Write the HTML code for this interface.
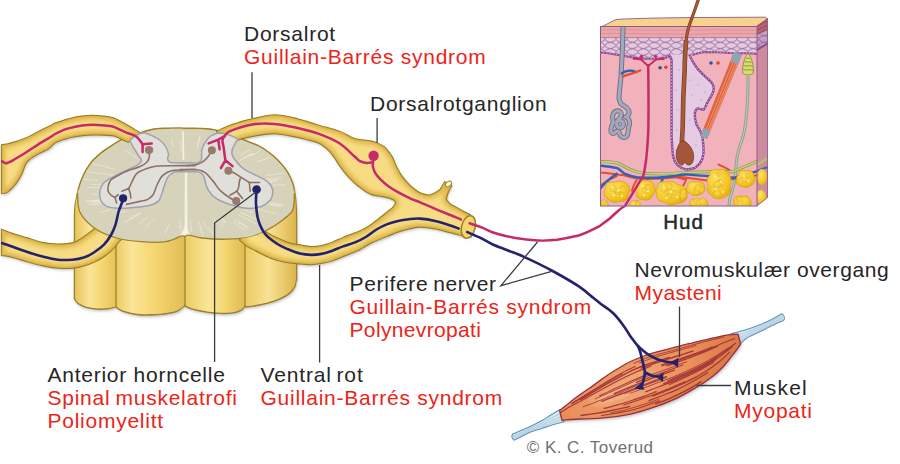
<!DOCTYPE html>
<html><head><meta charset="utf-8">
<style>
html,body{margin:0;padding:0;background:#fff;width:900px;height:464px;overflow:hidden}
svg{display:block}
.t{font-family:"Liberation Sans",sans-serif;font-size:21px;letter-spacing:0.75px}
.k{fill:#262626;stroke:#262626;stroke-width:0px}
.r{fill:#ec2418;stroke:#ec2418;stroke-width:0px}
</style></head><body>
<svg width="900" height="464" viewBox="0 0 900 464">
<defs>
<linearGradient id="lobe1" x1="0" x2="1" y1="0" y2="0"><stop offset="0" stop-color="#e8c55c"/><stop offset="0.35" stop-color="#fbe497"/><stop offset="0.7" stop-color="#f3d46e"/><stop offset="1" stop-color="#e6c25a"/></linearGradient>
<linearGradient id="lobe2" x1="0" x2="1" y1="0" y2="0"><stop offset="0" stop-color="#eccb64"/><stop offset="0.22" stop-color="#fbe598"/><stop offset="0.55" stop-color="#f5d672"/><stop offset="1" stop-color="#e2bd55"/></linearGradient>
<linearGradient id="lobe3" x1="0" x2="1" y1="0" y2="0"><stop offset="0" stop-color="#eecd66"/><stop offset="0.4" stop-color="#fbe598"/><stop offset="0.7" stop-color="#f3d46e"/><stop offset="1" stop-color="#dfba52"/></linearGradient>
<linearGradient id="lobe4" x1="0" x2="1" y1="0" y2="0"><stop offset="0" stop-color="#eccb64"/><stop offset="0.45" stop-color="#fae295"/><stop offset="1" stop-color="#dcb64e"/></linearGradient>
<linearGradient id="rootg" x1="0" x2="0" y1="0" y2="1"><stop offset="0" stop-color="#f7e196"/><stop offset="1" stop-color="#ecce72"/></linearGradient>
<radialGradient id="muscg" cx="0.5" cy="0.45" r="0.6"><stop offset="0" stop-color="#f0a774"/><stop offset="0.6" stop-color="#df8550"/><stop offset="1" stop-color="#c86838"/></radialGradient>
<filter id="shd" x="-5%" y="-5%" width="110%" height="115%"><feGaussianBlur in="SourceAlpha" stdDeviation="1.5" result="b"/><feOffset in="b" dx="0.6" dy="2" result="o"/><feFlood flood-color="#50506a" flood-opacity="0.38" result="f"/><feComposite in="f" in2="o" operator="in"/></filter>
</defs>

<!-- shadows -->
<g filter="url(#shd)">
<use href="#lD"/><use href="#lV"/><use href="#bodyP"/><use href="#rU"/>
</g>
<!-- ===== SPINAL CORD BODY ===== -->
<defs><path id="bodyP" d="M74.6,215.0 C74.7,213.3 74.8,208.3 75.2,205.0 C75.6,201.7 76.6,198.1 77.2,195.0 C77.8,191.9 78.2,189.6 79.1,186.7 C79.9,183.8 81.1,180.5 82.3,177.7 C83.5,174.9 84.7,172.5 86.2,169.9 C87.7,167.3 89.5,164.6 91.4,162.2 C93.4,159.8 95.8,157.6 97.9,155.7 C100.1,153.8 102.0,152.2 104.3,150.5 C106.6,148.8 109.0,147.3 112.0,145.5 C115.0,143.7 117.3,141.6 122.0,139.5 C126.7,137.4 135.1,134.7 140.0,133.0 C144.9,131.3 147.5,130.4 151.7,129.6 C155.9,128.8 160.3,128.6 165.0,128.3 C169.7,128.0 176.5,128.0 180.0,128.0 C183.5,128.0 182.7,128.3 186.0,128.4 C189.3,128.5 195.2,128.2 200.0,128.5 C204.8,128.8 210.0,129.0 215.0,130.0 C220.0,131.0 225.0,132.8 230.0,134.5 C235.0,136.2 240.2,138.5 245.2,140.5 C250.2,142.5 255.4,144.1 260.0,146.6 C264.6,149.1 269.2,152.7 272.9,155.7 C276.6,158.7 279.4,161.8 282.0,164.8 C284.6,167.8 286.7,170.6 288.5,173.8 C290.3,177.0 291.9,180.7 293.0,184.2 C294.1,187.7 294.5,191.5 295.0,195.0 C295.5,198.5 295.8,201.7 296.0,205.0 C296.2,208.3 296.3,213.3 296.4,215.0 L296.5,280 L296,280 C295.8,281.1 295.8,284.5 294.7,286.7 C293.6,288.9 291.8,291.3 289.3,293.3 C286.9,295.3 283.8,297.0 280.0,298.7 C276.2,300.4 271.1,302.1 266.7,303.3 C262.2,304.5 256.9,305.4 253.3,306.0 C249.7,306.6 246.6,306.6 245.3,306.7 L244.7,306 C244.1,306.7 243.2,308.9 241.3,310.0 C239.4,311.1 236.9,312.1 233.3,312.7 C229.8,313.2 224.4,313.4 220.0,313.3 C215.6,313.2 211.1,312.7 206.7,312.0 C202.2,311.3 196.9,310.3 193.3,309.3 C189.7,308.3 186.6,306.6 185.3,306.0 L184.7,305.3 C183.4,306.3 180.3,309.9 176.7,311.3 C173.1,312.8 167.8,313.4 163.3,314.0 C158.9,314.6 154.4,314.8 150.0,314.9 C145.6,315.0 141.1,315.0 136.7,314.4 C132.2,313.8 126.6,312.5 123.3,311.3 C120.0,310.1 117.8,308.0 116.7,307.3 L115.3,306.7 C114.0,307.0 110.4,308.3 107.3,308.7 C104.2,309.1 100.2,309.2 96.7,309.0 C93.2,308.8 89.1,308.2 86.0,307.3 C82.9,306.4 79.9,304.7 78.0,303.3 C76.1,301.9 75.1,299.5 74.5,298.7 Z"/></defs>
<use href="#bodyP" fill="#eccf72" stroke="#9c8228" stroke-width="1.6"/>
<clipPath id="cpBody"><use href="#bodyP"/></clipPath>
<g stroke="none" clip-path="url(#cpBody)">
<path fill="url(#lobe1)" d="M75.3,190 L116.2,190 L116.2,306.4 C114.7,306.6 110.5,307.6 107.3,307.9 C104.0,308.2 100.2,308.4 96.7,308.2 C93.2,308.0 89.1,307.4 86.0,306.5 C82.9,305.6 79.8,303.9 78.0,302.6 C76.2,301.3 75.8,299.2 75.3,298.5 Z"/>
<path fill="url(#lobe2)" d="M116.8,190 L184.4,190 L184.4,305.6 C183.1,306.4 180.2,309.2 176.7,310.5 C173.2,311.8 167.8,312.6 163.3,313.2 C158.9,313.8 154.4,314.0 150.0,314.1 C145.6,314.2 141.1,314.2 136.7,313.6 C132.2,313.0 126.6,311.6 123.3,310.5 C120.0,309.4 117.9,307.4 116.8,306.8 Z"/>
<path fill="url(#lobe3)" d="M185.6,190 L244.4,190 L244.4,306.2 C243.9,306.7 243.2,308.2 241.3,309.2 C239.5,310.1 236.9,311.3 233.3,311.9 C229.8,312.4 224.4,312.6 220.0,312.5 C215.6,312.4 211.1,311.9 206.7,311.2 C202.2,310.5 196.8,309.4 193.3,308.5 C189.8,307.6 186.9,306.0 185.6,305.5 Z"/>
<path fill="url(#lobe4)" d="M245.6,190 L295.7,190 L295.7,282 C295.4,282.8 295.1,284.9 294.0,286.7 C292.9,288.5 291.1,290.7 288.8,292.6 C286.5,294.5 283.7,296.2 280.0,297.9 C276.3,299.5 271.1,301.3 266.7,302.5 C262.2,303.7 256.8,304.6 253.3,305.2 C249.8,305.8 246.9,305.8 245.6,305.9 Z"/>
</g>
<g fill="none" stroke="#9c8228" stroke-width="1.3">
<path d="M116,236 L116,306.8 M185,234 L185,305.8 M245,236 L245,306.3"/>
</g>
<!-- ===== VENTRAL ROOTS (under face) ===== -->
<defs><path id="lV" d="M1.8,229.8 C2.5,230.1 3.9,230.7 6.0,231.5 C8.1,232.3 10.7,233.3 14.5,234.5 C18.3,235.7 24.1,237.4 28.9,238.8 C33.7,240.2 38.6,242.1 43.4,243.1 C48.2,244.1 53.5,244.5 57.8,244.6 C62.1,244.7 66.3,244.3 69.4,243.8 C72.5,243.3 74.2,242.8 76.6,241.7 C79.0,240.6 81.1,239.1 83.8,237.3 C86.5,235.5 90.1,232.7 92.5,230.8 C94.9,228.9 95.8,228.5 98.0,226.0 C100.2,223.5 104.7,217.7 106.0,216.0 L127,228 C126.3,229.6 124.2,235.0 122.8,237.3 C121.4,239.6 120.2,239.8 118.5,241.7 C116.8,243.6 115.1,246.5 112.7,248.9 C110.3,251.3 107.1,253.9 104.0,256.1 C100.9,258.3 97.3,260.3 93.9,261.9 C90.5,263.5 87.4,264.5 83.8,265.5 C80.2,266.5 76.6,267.3 72.3,267.7 C68.0,268.1 62.6,268.1 57.8,267.7 C53.0,267.3 48.2,266.5 43.4,265.5 C38.6,264.5 33.7,263.2 28.9,261.9 C24.1,260.6 18.3,258.7 14.5,257.6 C10.7,256.6 8.1,256.0 6.0,255.6 C3.9,255.2 2.5,255.4 1.8,255.3 Z"/>
<clipPath id="cplV"><use href="#lV"/></clipPath>
<filter id="bl2" x="-10%" y="-10%" width="120%" height="120%"><feGaussianBlur stdDeviation="2"/></filter>
</defs>
<use href="#lV" fill="#f7dc84" stroke="#947a22" stroke-width="2"/>
<g clip-path="url(#cplV)"><use href="#lV" fill="none" stroke="#dfb84a" stroke-width="7" filter="url(#bl2)"/></g>
<!-- face (white matter) -->
<defs><path id="faceP" d="M77.9,195.0 C78.2,193.7 79.0,189.7 79.8,186.9 C80.6,184.1 81.8,180.8 83.0,178.0 C84.2,175.2 85.4,172.8 86.9,170.3 C88.4,167.8 90.1,165.1 92.0,162.8 C93.9,160.5 96.3,158.3 98.4,156.4 C100.5,154.5 102.5,152.9 104.8,151.2 C107.1,149.5 109.5,148.1 112.4,146.3 C115.3,144.5 117.7,142.4 122.3,140.3 C126.9,138.2 135.3,135.5 140.2,133.8 C145.1,132.2 147.8,131.2 151.9,130.4 C156.0,129.6 160.3,129.4 165.0,129.1 C169.7,128.8 176.5,128.8 180.0,128.8 C183.5,128.8 182.7,129.1 186.0,129.2 C189.3,129.3 195.2,129.0 200.0,129.3 C204.8,129.6 210.0,129.8 215.0,130.8 C220.0,131.8 224.8,133.6 229.8,135.3 C234.8,137.0 239.9,139.2 244.9,141.2 C249.9,143.2 255.0,144.8 259.6,147.3 C264.2,149.8 268.8,153.3 272.4,156.3 C276.0,159.3 278.8,162.3 281.4,165.3 C284.0,168.3 286.0,171.0 287.8,174.2 C289.6,177.4 291.2,181.0 292.3,184.5 C293.4,188.0 294.0,193.2 294.3,195.0 C294.2,195.8 294.6,205.5 292.7,209.9 C290.8,214.3 287.1,216.4 283.0,219.7 C278.9,222.9 273.6,226.6 268.3,229.4 C263.0,232.2 258.0,235.2 251.1,236.8 C244.2,238.4 234.8,239.0 226.7,239.2 C218.5,239.4 208.5,238.7 202.2,238.0 C195.9,237.3 191.9,235.4 189.0,235.2 C186.1,234.9 185.7,236.3 185.0,236.5 C184.3,236.4 184.2,235.3 181.0,236.2 C177.8,237.1 172.2,240.8 165.6,241.7 C158.9,242.6 149.2,242.3 141.1,241.7 C132.9,241.1 124.4,240.2 116.7,238.0 C109.0,235.8 100.8,232.5 94.7,228.2 C88.6,223.9 82.9,218.2 80.0,212.3 C77.1,206.4 77.9,196.2 77.5,193.0 Z"/><clipPath id="cpFace"><use href="#faceP"/></clipPath></defs>
<use href="#faceP" fill="#d7d3bb"/>
<g fill="none" stroke="#eeebdc" stroke-width="0.9" opacity="0.75" clip-path="url(#cpFace)">
<path d="M154.7,218.4 Q148.6,223.1 145.2,227.6 M141.0,212.6 Q133.3,215.8 128.4,219.5 M248.1,202.2 Q257.0,202.8 263.9,205.8 M199.7,227.2 Q201.8,232.1 203.4,237.7 M252.7,182.8 Q264.2,180.8 276.9,181.0 M240.6,212.2 Q248.4,216.4 258.2,220.0 M137.5,158.3 Q129.9,153.1 124.9,150.6 M208.7,226.8 Q210.5,231.2 213.5,235.1 M115.4,198.4 Q104.8,199.3 93.0,201.7 M115.2,169.6 Q105.0,166.2 93.4,164.0 M254.7,183.6 Q264.1,182.0 272.0,182.5 M118.9,190.3 Q109.0,190.8 97.5,191.0 M238.5,161.2 Q246.6,157.4 254.0,153.2 M102.3,199.5 Q94.1,201.1 86.1,201.7 M263.6,203.1 Q274.5,205.9 282.3,206.8 M169.6,224.0 Q165.9,229.0 165.0,234.2 M220.1,217.3 Q223.8,218.6 225.8,222.2 M187.1,224.9 Q186.1,230.8 187.5,236.9 M102.1,174.2 Q95.7,172.3 87.2,171.7 M121.2,206.5 Q111.9,208.6 99.8,212.7 M218.2,219.3 Q221.4,222.7 224.7,225.6 M180.7,220.2 Q179.6,224.6 179.3,228.6 M265.7,175.6 Q275.2,174.7 283.9,172.7 M269.4,202.3 Q277.8,204.4 283.9,204.8 M126.6,211.2 Q122.2,211.7 117.0,214.9 M251.2,202.3 Q256.8,202.2 263.3,204.9 M256.1,188.0 Q261.8,186.6 268.4,188.1 M243.4,158.3 Q247.2,155.4 252.6,153.5 M140.4,213.4 Q133.9,217.8 124.4,222.3 M117.9,191.4 Q111.3,191.0 105.6,192.0 M219.4,156.2 Q223.4,153.8 224.7,151.2 M234.2,218.8 Q237.7,222.4 241.0,223.2 M240.5,155.5 Q245.0,151.6 250.3,149.7 M196.9,147.6 Q198.0,140.8 200.1,135.7 M220.1,144.9 Q223.6,142.7 225.1,138.6 M181.4,151.1 Q180.4,144.8 180.2,141.4 M258.1,194.2 Q266.0,196.2 272.7,195.5 M101.5,202.1 Q96.0,202.9 87.9,204.4 M199.3,222.4 Q199.7,226.0 201.8,229.0 M256.5,161.8 Q263.8,160.2 270.1,156.7 M257.2,208.4 Q267.1,211.8 275.4,213.6 M115.9,192.7 Q103.9,194.4 92.8,194.3 M260.9,181.1 Q270.7,181.0 277.7,179.5 M219.5,217.6 Q223.8,221.3 225.8,223.2 M238.6,221.5 Q244.3,224.3 249.0,228.1 M119.7,177.2 Q115.9,176.8 109.2,175.5 M97.9,180.4 Q91.9,180.7 83.7,179.1 M203.6,222.2 Q204.7,226.1 207.3,229.5 M181.5,225.2 Q182.3,227.9 180.7,231.4 M108.1,198.2 Q96.7,200.9 85.8,201.1 M106.6,187.6 Q95.6,187.3 87.5,187.5 M213.1,217.5 Q216.9,222.6 222.7,227.9 M173.6,147.4 Q172.4,143.5 171.1,139.3 M200.7,153.4 Q202.1,147.8 204.9,143.5 M197.0,147.9 Q199.1,144.1 199.7,137.8 M109.7,201.8 Q100.9,204.0 92.1,205.0 M110.1,199.4 Q102.6,201.3 92.5,202.0 M249.9,155.8 Q255.2,154.5 260.1,150.6 M223.4,157.7 Q226.6,153.7 230.1,152.3 M190.0,221.1 Q191.5,227.5 191.3,231.5 M233.4,221.7 Q238.0,226.8 244.6,229.6 M256.3,180.5 Q268.7,179.1 281.7,177.8 M272.7,185.2 Q279.1,185.0 285.9,184.7 M148.2,217.3 Q144.7,219.1 139.8,223.8 M113.2,174.8 Q107.5,174.2 102.9,172.9 M118.3,185.3 Q105.9,186.2 91.8,184.3 M243.6,209.7 Q249.0,210.7 252.6,213.0 M238.7,215.1 Q248.3,218.9 256.1,224.1 M238.6,222.9 Q243.6,224.6 247.3,228.7 M263.9,202.3 Q270.8,205.1 280.3,205.3"/>
</g>
<path fill="#f3f1e2" d="M184.8,172 L187.2,172 L187.4,226 C188,231 189.5,234 191,236 L179,236 C181.5,234 183.5,230 184.6,226 Z"/>
<path fill="none" stroke="#f3f1e2" stroke-width="1.6" d="M183,131 L183.5,160"/>
<path fill="none" stroke="#9c8228" stroke-width="1.3" d="M294.5,193.0 C294.2,195.8 294.6,205.5 292.7,209.9 C290.8,214.3 287.1,216.4 283.0,219.7 C278.9,222.9 273.6,226.6 268.3,229.4 C263.0,232.2 258.0,235.2 251.1,236.8 C244.2,238.4 234.8,239.0 226.7,239.2 C218.5,239.4 208.5,238.7 202.2,238.0 C195.9,237.3 191.9,235.4 189.0,235.2 C186.1,234.9 185.7,236.3 185.0,236.5 C184.3,236.4 184.2,235.3 181.0,236.2 C177.8,237.1 172.2,240.8 165.6,241.7 C158.9,242.6 149.2,242.3 141.1,241.7 C132.9,241.1 124.4,240.2 116.7,238.0 C109.0,235.8 100.8,232.5 94.7,228.2 C88.6,223.9 82.9,218.2 80.0,212.3 C77.1,206.4 77.9,196.2 77.5,193.0"/>
<!-- ===== DORSAL ROOTS (over face) ===== -->
<defs><path id="lD" d="M1.8,145.2 C2.5,145.1 4.2,145.0 6.0,144.6 C7.8,144.2 9.6,143.9 12.9,142.8 C16.2,141.8 21.6,140.1 25.9,138.3 C30.2,136.5 34.5,134.0 38.8,131.8 C43.1,129.6 49.0,126.7 51.7,125.3 C54.4,123.9 52.6,124.4 55.0,123.5 C57.4,122.6 62.2,121.0 65.8,119.9 C69.4,118.9 72.9,117.9 76.5,117.2 C80.1,116.5 83.7,116.1 87.3,115.9 C90.9,115.7 94.5,115.7 98.1,115.9 C101.7,116.1 106.1,116.7 108.9,117.2 C111.7,117.7 112.2,117.6 115.0,118.8 C117.8,120.0 122.8,122.9 125.8,124.6 C128.8,126.3 130.5,127.3 133.0,128.8 C135.5,130.3 139.7,133.0 141.0,133.8 L128,141.8 C126.7,141.2 122.2,139.0 120.0,138.0 C117.8,137.0 116.8,136.3 115.0,135.8 C113.2,135.3 111.7,135.2 108.9,135.0 C106.1,134.8 101.7,134.6 98.1,134.5 C94.5,134.4 90.9,134.4 87.3,134.7 C83.7,135.0 80.1,135.5 76.5,136.1 C72.9,136.7 69.4,137.4 65.8,138.5 C62.2,139.6 57.9,140.8 55.0,142.5 C52.1,144.2 51.1,146.7 48.4,148.5 C45.7,150.3 42.0,151.4 38.8,153.2 C35.6,155.0 31.3,157.6 29.0,159.4 C26.7,161.2 26.5,161.9 25.2,164.3 C23.9,166.7 22.9,170.8 21.3,174.0 C19.7,177.2 17.8,180.7 15.5,183.6 C13.2,186.5 10.1,189.8 7.8,191.4 C5.5,193.0 2.8,193.0 1.8,193.3 Z"/><clipPath id="cplD"><use href="#lD"/></clipPath></defs>
<use href="#lD" fill="#f7dc84" stroke="#947a22" stroke-width="2" stroke-linejoin="round"/>
<g clip-path="url(#cplD)"><use href="#lD" fill="none" stroke="#dfb84a" stroke-width="7" filter="url(#bl2)"/></g>
<!-- ===== RIGHT ROOTS + GANGLION ===== -->
<defs>
<path id="rU" d="M217.0,131.5 C219.2,130.5 226.2,127.1 230.0,125.6 C233.8,124.1 236.3,123.5 240.0,122.4 C243.7,121.3 246.5,120.4 252.2,119.2 C257.9,118.0 267.0,115.3 274.4,115.3 C281.8,115.2 289.3,117.2 296.7,118.9 C304.1,120.6 311.8,123.5 318.9,125.6 C326.0,127.7 333.7,129.5 339.4,131.6 C345.1,133.7 349.1,136.9 353.0,138.4 C356.9,139.9 359.7,139.8 362.6,140.3 C365.5,140.8 368.0,140.8 370.4,141.3 C372.8,141.8 374.9,142.3 377.2,143.3 C379.5,144.3 382.2,145.7 384.0,147.1 C385.8,148.5 386.6,149.7 388.0,151.5 C389.4,153.3 390.9,155.2 392.3,157.8 C393.7,160.4 394.7,163.8 396.2,166.8 C397.7,169.8 399.2,172.9 401.4,175.9 C403.5,178.9 406.5,182.3 409.1,184.9 C411.7,187.5 414.8,189.9 416.9,191.4 C419.0,192.9 419.9,193.3 422.0,194.0 C424.1,194.7 427.0,195.6 429.2,195.4 C431.4,195.2 433.3,194.1 435.2,193.1 C437.1,192.1 439.6,190.1 440.5,189.5 C440.9,188.8 442.1,186.8 442.8,185.6 C443.6,184.3 444.6,182.6 445.0,182.0 L451.5,186 C451.2,186.4 450.4,187.1 449.6,188.5 C448.9,189.9 447.6,192.8 447.0,194.6 C446.4,196.4 446.2,198.7 446.0,199.5 C446.7,200.3 448.6,203.2 450.3,204.5 C452.0,205.8 454.2,206.5 456.0,207.5 C457.8,208.5 458.6,209.2 460.9,210.4 C463.2,211.7 468.5,214.2 470.0,215.0 L471,236.5 C469.6,236.3 465.8,236.0 462.4,235.3 C458.9,234.6 454.8,233.4 450.3,232.3 C445.8,231.2 440.2,229.4 435.2,228.5 C430.2,227.6 424.4,226.8 420.2,226.8 C416.0,226.8 413.7,227.5 410.0,228.3 C406.3,229.1 401.9,230.3 398.1,231.6 C394.3,232.9 391.8,234.1 387.3,235.9 C382.8,237.7 375.8,240.3 371.2,242.5 C366.6,244.7 362.9,247.5 360.0,249.1 C357.1,250.7 356.7,250.6 353.9,251.8 C351.1,253.0 346.7,254.7 343.1,256.1 C339.5,257.5 335.9,259.2 332.3,260.4 C328.7,261.6 325.1,262.5 321.5,263.1 C317.9,263.7 314.4,264.1 310.8,264.2 C307.2,264.2 303.6,263.7 300.0,263.4 C296.4,263.1 293.0,263.1 289.0,262.5 C285.0,261.9 279.9,260.7 276.0,259.5 C272.1,258.3 270.3,257.7 265.6,255.5 C260.9,253.3 250.8,247.9 247.8,246.4 L240,240 L255,222 C256.2,223.2 259.8,227.1 262.0,229.0 C264.2,230.9 265.4,231.9 268.0,233.5 C270.6,235.1 273.7,236.8 277.4,238.5 C281.1,240.2 286.2,242.4 290.0,243.5 C293.8,244.6 296.5,244.7 300.0,245.3 C303.5,245.9 307.2,246.8 310.8,246.9 C314.4,247.0 317.9,246.6 321.5,245.9 C325.1,245.2 328.7,243.9 332.3,242.6 C335.9,241.2 339.3,239.4 343.1,237.8 C346.9,236.2 351.2,234.8 355.0,233.2 C358.8,231.6 362.2,230.4 365.8,228.4 C369.4,226.4 372.9,223.6 376.5,220.9 C380.1,218.2 384.6,214.4 387.3,212.2 C390.0,210.0 391.3,209.3 392.7,207.9 C394.1,206.5 395.4,204.3 395.9,203.6 C395.7,203.1 395.8,201.3 394.9,200.4 C394.0,199.5 392.7,198.9 390.5,198.2 C388.3,197.5 385.1,196.8 381.9,196.1 C378.7,195.4 374.8,195.5 371.2,194.0 C367.6,192.5 363.7,189.8 360.0,187.0 C356.3,184.2 352.2,180.2 349.1,177.0 C346.0,173.8 343.6,170.5 341.3,167.5 C339.0,164.5 337.4,161.6 335.5,158.8 C333.6,156.1 332.3,153.6 329.7,151.0 C327.1,148.4 323.6,145.2 320.0,143.3 C316.4,141.4 311.9,140.6 308.0,139.5 C304.1,138.4 302.3,137.7 296.7,136.7 C291.1,135.7 281.3,133.5 274.4,133.3 C267.4,133.1 260.6,134.6 255.0,135.5 C249.4,136.4 244.9,137.4 241.1,138.5 C237.3,139.6 233.5,141.4 232.0,142.0 Z"/>
<clipPath id="cpBelow"><rect x="0" y="185" width="900" height="300"/></clipPath>
<mask id="mFace" maskUnits="userSpaceOnUse" x="0" y="0" width="900" height="464"><rect x="0" y="0" width="900" height="464" fill="#fff"/><path d="M77.9,195.0 C78.2,193.7 79.0,189.7 79.8,186.9 C80.6,184.1 81.8,180.8 83.0,178.0 C84.2,175.2 85.4,172.8 86.9,170.3 C88.4,167.8 90.1,165.1 92.0,162.8 C93.9,160.5 96.3,158.3 98.4,156.4 C100.5,154.5 102.5,152.9 104.8,151.2 C107.1,149.5 109.5,148.1 112.4,146.3 C115.3,144.5 117.7,142.4 122.3,140.3 C126.9,138.2 135.3,135.5 140.2,133.8 C145.1,132.2 147.8,131.2 151.9,130.4 C156.0,129.6 160.3,129.4 165.0,129.1 C169.7,128.8 176.5,128.8 180.0,128.8 C183.5,128.8 182.7,129.1 186.0,129.2 C189.3,129.3 195.2,129.0 200.0,129.3 C204.8,129.6 210.0,129.8 215.0,130.8 C220.0,131.8 224.8,133.6 229.8,135.3 C234.8,137.0 239.9,139.2 244.9,141.2 C249.9,143.2 255.0,144.8 259.6,147.3 C264.2,149.8 268.8,153.3 272.4,156.3 C276.0,159.3 278.8,162.3 281.4,165.3 C284.0,168.3 286.0,171.0 287.8,174.2 C289.6,177.4 291.2,181.0 292.3,184.5 C293.4,188.0 294.0,193.2 294.3,195.0 C294.2,195.8 294.6,205.5 292.7,209.9 C290.8,214.3 287.1,216.4 283.0,219.7 C278.9,222.9 273.6,226.6 268.3,229.4 C263.0,232.2 258.0,235.2 251.1,236.8 C244.2,238.4 234.8,239.0 226.7,239.2 C218.5,239.4 208.5,238.7 202.2,238.0 C195.9,237.3 191.9,235.4 189.0,235.2 C186.1,234.9 185.7,236.3 185.0,236.5 C184.3,236.4 184.2,235.3 181.0,236.2 C177.8,237.1 172.2,240.8 165.6,241.7 C158.9,242.6 149.2,242.3 141.1,241.7 C132.9,241.1 124.4,240.2 116.7,238.0 C109.0,235.8 100.8,232.5 94.7,228.2 C88.6,223.9 82.9,218.2 80.0,212.3 C77.1,206.4 77.9,196.2 77.5,193.0 Z" fill="#000" clip-path="url(#cpBelow)"/></mask>
<clipPath id="cprU"><use href="#rU"/></clipPath>
</defs>
<g mask="url(#mFace)">
<use href="#rU" fill="#f7dc84" stroke="#947a22" stroke-width="2" stroke-linejoin="round"/>
<g clip-path="url(#cprU)"><use href="#rU" fill="none" stroke="#dfb84a" stroke-width="7" filter="url(#bl2)"/></g>
</g>
<ellipse cx="468.4" cy="227" rx="6.8" ry="11.5" transform="rotate(14 468.4 227)" fill="#f5d66e" stroke="#9c8228" stroke-width="1.6"/>
<ellipse cx="448.5" cy="184" rx="3.6" ry="2.3" transform="rotate(-35 448.5 184)" fill="#fdf6dc" stroke="#9c8228" stroke-width="1"/>
<!-- gray matter -->
<path fill="#e0dfd9" stroke="#9fa1b0" stroke-width="1.5" d="M129.9,140.5 C133,137 137,134 143.4,132.8 C148,133 153,136 159,139.5 C164,143 167,147 168.6,154.1 C168,157 167,159 168,160.5 C169,162 171,162.8 172.5,162.8 L197.3,163.1 C200,162 201.6,160 201.6,158.8 L201.6,150.2 C203,146 204,143.5 205.9,141.6 C208,138 210,136 212.4,135.1 C214,134 216,133.2 218.8,132.9 C223,133 226,134 229.6,135.1 C233,136.5 236,138 238.2,139.4 C236,141 235,143 233.9,145.9 C232.5,148 231.8,150 231.8,152.4 C232,156 234,159 236.1,161 C238,164 241,167 244.7,169.6 C249,172 253,174 257.7,176.1 C262,178 266,180 268.4,182.6 C271,185 272.5,188 272.8,191.2 C273,194 272,197 270.6,199.8 C268,203 265,205 262,206.3 C258,207.5 253,208.4 249,208.4 C244,208.3 240,207.5 236.1,206.3 C231,205 227,203.5 223.1,202 C218,200 215,198 212.4,195.5 C209,192 207,188 205.9,184.7 C205,181 204.5,178 203.7,176.1 C202,173.5 200,172 197.3,171.8 L176,171.8 C173,172 172.5,173 172.5,173.4 C169,175 167.5,177 166.7,179.3 C165,183 164,187 162.8,190.9 C161.5,195 160.5,198 159,200.6 C156,203.5 153,204.8 149.3,205.4 C144,206.5 139,207 133.8,207.4 C128,208 123,208.3 118.3,208.3 C113,208 109,207.5 106.6,206.4 C103,204 101.5,202.5 100.8,200.6 C99.5,197 99.3,194 99.8,190.9 C100.5,188 102,185 103.7,183.1 C106,180.5 109,179 112.4,177.3 C116,175.5 120,173.5 124,171.5 C129,169 133,167.5 136.7,165.7 C139,164 140.5,162.5 141.5,160.9 C141,158.5 140,157 138.6,156 C137,153 135.5,150.5 133.8,148.3 C132.5,146 131,143 129.9,140.5 Z"/>
<!-- interneurons (brown) -->
<g fill="none" stroke="#8b7166" stroke-width="1.6" stroke-linecap="round" stroke-linejoin="round">
<path d="M149.1,150.0 C149.1,151.2 149.7,154.9 149.3,157.0 C148.9,159.1 148.1,160.9 146.5,162.5 C144.9,164.1 143.4,165.0 140.0,166.5 C136.6,168.0 129.5,170.1 126.0,171.5 C122.5,172.9 121.4,173.7 118.9,175.0 C116.5,176.3 113.1,177.7 111.3,179.5 C109.5,181.3 108.8,183.6 108.3,185.6 C107.8,187.6 107.8,190.0 108.3,191.6 C108.8,193.2 110.2,194.4 111.3,195.4 C112.4,196.4 114.5,197.2 115.1,197.6"/>
<path d="M115.1,197.6 L118.1,194.6 M115.1,197.6 L116.6,202.9"/>
<path d="M195.0,165.7 C191.2,165.7 179.5,165.5 172.5,165.7 C165.5,165.9 158.6,165.7 153.1,166.7 C147.6,167.7 142.5,170.1 139.6,171.5 C136.7,172.9 136.8,173.2 135.5,175.0 C134.2,176.8 132.8,180.2 131.7,182.5 C130.6,184.8 129.2,187.6 128.7,188.6"/>
<path d="M128.7,188.6 L121.9,191.2 M128.7,188.6 L130.2,193.1 L130.9,198"/>
<path d="M195.0,169.4 C191.2,169.6 177.9,169.5 172.5,170.5 C167.1,171.5 165.4,173.0 162.8,175.4 C160.2,177.8 158.6,181.8 157.0,185.0 C155.4,188.2 154.7,192.4 153.1,194.8 C151.5,197.2 149.5,198.5 147.3,199.6 C145.1,200.7 143.5,200.6 140.0,201.4 C136.5,202.2 128.7,203.9 126.4,204.4"/>
<path d="M211.9,150.2 C211.2,151.3 209.5,154.8 208.0,156.7 C206.5,158.6 204.8,160.4 203.0,161.7 C201.2,163.0 199.0,163.9 197.0,164.5 C195.0,165.1 192.6,165.1 190.8,165.3 C189.0,165.5 186.8,165.5 186.0,165.5"/>
<path d="M228.4,170.8 C229.3,171.1 231.5,171.7 233.7,172.8 C235.9,173.9 238.9,176.0 241.5,177.6 C244.1,179.2 248.0,181.7 249.3,182.5"/>
<path d="M249.3,182.5 L259.5,182.5 M249.3,182.5 L250.2,191.2"/>
<path d="M180.0,169.6 C183.6,169.8 196.2,168.9 201.6,170.7 C207.0,172.5 209.5,177.3 212.4,180.4 C215.3,183.5 216.7,186.7 218.8,189.0 C220.9,191.3 222.7,192.8 225.0,194.5 C227.3,196.2 231.2,198.7 232.5,199.5"/>
<path d="M229.9,195.3 C231.0,194.6 235.2,192.5 236.7,191.2 C238.1,189.9 238.2,188.8 238.6,187.3 C239.0,185.8 239.0,183.6 239.3,182.0 C239.6,180.4 240.3,178.7 240.5,178.0"/>
<path d="M236.7,191.2 L242.5,198.5"/>
</g>
<g fill="#98796c"><circle cx="149.1" cy="150" r="4.1"/><circle cx="211.9" cy="150.2" r="4"/><circle cx="228.4" cy="170.8" r="4"/><circle cx="236.2" cy="200.9" r="4"/></g>

<!-- ===== NERVE LINES ===== -->
<g fill="none" stroke-linecap="round" stroke-linejoin="round">
<!-- pink sensory -->
<path stroke="#c62a6a" stroke-width="2.5" d="M2.2,161.4 C2.8,161.7 4.8,163.1 5.8,163.3 C6.8,163.5 7.3,162.9 8.5,162.4 C9.7,161.9 10.0,162.0 12.9,160.3 C15.8,158.7 21.6,155.2 25.9,152.5 C30.2,149.8 34.5,146.8 38.8,144.1 C43.1,141.4 49.0,138.0 51.7,136.3 C54.4,134.6 52.6,135.2 55.0,134.0 C57.4,132.8 62.2,130.4 65.8,129.1 C69.4,127.8 72.9,127.1 76.5,126.4 C80.1,125.7 83.7,125.2 87.3,125.0 C90.9,124.8 94.5,124.8 98.1,125.0 C101.7,125.2 106.1,125.5 108.9,125.9 C111.7,126.3 112.2,126.2 115.0,127.3 C117.8,128.4 122.3,130.8 125.8,132.3 C129.3,133.8 133.4,134.5 136.2,136.5 C139.0,138.5 141.5,142.9 142.6,144.2"/>
<path stroke="#c62a6a" stroke-width="2.5" d="M142.6,144.2 L142.6,152 M142.6,144.2 L151.7,143.6"/>
<path stroke="#c62a6a" stroke-width="2.5" d="M224.7,136.0 C225.6,135.2 225.4,133.0 230.0,131.1 C234.6,129.2 244.8,125.6 252.2,124.4 C259.6,123.2 267.0,123.3 274.4,123.9 C281.8,124.5 289.3,126.1 296.7,127.8 C304.1,129.5 311.8,131.3 318.9,133.9 C326.0,136.5 333.4,139.5 339.4,143.3 C345.4,147.1 351.5,153.8 354.9,156.8 C358.3,159.8 358.1,160.2 360.0,161.2 C361.9,162.2 364.5,162.7 366.5,162.9 C368.5,163.1 371.1,162.6 372.0,162.5"/>
<path stroke="#c62a6a" stroke-width="2.5" d="M224.7,136 L218.3,139.6 M218.3,139.6 L208.6,143.4 M218.3,139.6 L219.6,149.3 M224.7,136 C223,138 222.4,140 222.4,141 C223,145 224,148 224.1,151.2 L225.4,160.3 M225.4,160.3 L220.9,168 M225.4,160.3 L232.5,166.1"/>
<path stroke="#c62a6a" stroke-width="2.5" d="M373.6,156.0 C373.5,157.2 373.1,161.2 373.0,163.0 C372.9,164.8 372.5,165.1 372.9,166.8 C373.3,168.5 374.2,171.2 375.5,173.3 C376.8,175.5 378.6,177.5 380.7,179.7 C382.8,181.8 385.4,184.0 388.4,186.2 C391.4,188.4 394.9,190.5 398.8,192.7 C402.7,194.8 408.1,197.5 411.7,199.1 C415.3,200.7 416.3,200.7 420.2,202.3 C424.1,203.9 430.2,206.8 435.2,208.9 C440.2,211.0 446.0,213.2 450.3,215.0 C454.6,216.8 459.1,218.8 460.9,219.5"/>
<path stroke="#c62a6a" stroke-width="2.5" d="M469.6,223.3 C477,225.5 484,228 492.3,232.3 C500,235 507,236.5 513.8,237.7 C522,239 530,240 537.5,240.5 C544,240.8 551,240.5 557,239.8 C565,238.5 572,237 578.5,235.5 C586,233 593,229.5 600,225.8 C607,221 613,216 618,211 C621,208 623,207 625,206"/>
<!-- blue motor -->
<path stroke="#23226c" stroke-width="2.6" d="M2.2,243.2 C4.2,243.9 10.1,245.9 14.5,247.5 C18.9,249.1 24.1,250.9 28.9,252.5 C33.7,254.1 38.6,255.6 43.4,256.8 C48.2,258.0 53.0,259.2 57.8,259.7 C62.6,260.2 68.0,260.0 72.3,259.7 C76.6,259.4 80.2,258.8 83.8,257.6 C87.4,256.4 90.5,254.7 93.9,252.5 C97.3,250.3 101.1,247.6 104.0,244.6 C106.9,241.6 109.4,237.9 111.3,234.5 C113.2,231.1 114.4,228.1 115.6,224.3 C116.8,220.6 117.5,215.4 118.5,212.0 C119.5,208.6 120.7,206.0 121.5,204.0 C122.3,202.0 122.8,200.7 123.1,200.0"/>
<path stroke="#23226c" stroke-width="2.6" d="M256.6,190.0 C256.5,192.3 255.7,198.6 256.0,203.7 C256.3,208.8 256.8,215.2 258.4,220.3 C260.0,225.4 262.4,230.6 265.6,234.5 C268.8,238.4 273.7,241.5 277.4,244.0 C281.1,246.5 284.2,247.7 288.0,249.3 C291.8,250.9 296.2,252.7 300.0,253.6 C303.8,254.5 307.2,254.8 310.8,254.9 C314.4,255.0 317.9,254.6 321.5,253.9 C325.1,253.2 328.7,251.9 332.3,250.7 C335.9,249.4 339.3,247.8 343.1,246.4 C346.9,245.0 351.2,244.0 355.0,242.4 C358.8,240.8 362.2,239.2 365.8,237.0 C369.4,234.8 372.9,231.7 376.5,229.5 C380.1,227.3 383.7,225.5 387.3,224.1 C390.9,222.7 394.5,221.7 398.1,220.9 C401.7,220.1 405.2,219.6 408.9,219.2 C412.6,218.8 415.8,218.3 420.2,218.6 C424.6,218.9 430.2,219.8 435.2,221.0 C440.2,222.2 446.4,224.2 450.3,225.5 C454.2,226.8 457.2,228.0 458.6,228.5"/>
<path stroke="#23226c" stroke-width="2.6" d="M467.2,232.1 C469.3,233.0 475.8,235.6 480.0,237.6 C484.2,239.6 487.6,242.0 492.3,244.2 C497.0,246.3 502.6,248.3 508.0,250.5 C513.4,252.7 517.2,253.7 524.6,257.1 C532.0,260.5 543.6,266.1 552.6,271.0 C561.6,275.9 571.7,281.7 578.5,286.2 C585.3,290.7 589.9,295.2 593.5,298.0 C597.1,300.8 596.8,300.7 600.0,303.2 C603.2,305.7 609.0,309.2 613.0,313.0 C617.0,316.8 621.0,322.2 623.7,325.9 C626.5,329.6 627.7,332.3 629.5,335.0 C631.3,337.7 633.3,340.0 634.7,341.9 C636.1,343.8 637.5,345.5 638.1,346.2"/>
</g>
<circle cx="123.1" cy="198.3" r="4.1" fill="#23226c"/>
<circle cx="256.6" cy="189.5" r="4.3" fill="#23226c"/>
<circle cx="373.6" cy="155.8" r="5.2" fill="#c62a6a"/>
<!-- ===== SKIN BLOCK ===== -->
<defs>
<clipPath id="cpFront"><rect x="600.5" y="26.5" width="156.5" height="179.5"/></clipPath>
<clipPath id="cpSide"><path d="M757,26 L767.5,18.5 L767.5,197.5 L757,206 Z"/></clipPath>
<pattern id="hatch" width="11" height="6.5" patternUnits="userSpaceOnUse">
<path d="M0,0.5 Q2.75,3.5 5.5,3.25 Q8.25,3 11,0.5 M0,6 Q2.75,3 5.5,3.25 Q8.25,3.5 11,6" fill="none" stroke="#86588c" stroke-width="0.8"/>
</pattern>
<radialGradient id="fatg" cx="0.4" cy="0.35" r="0.7"><stop offset="0" stop-color="#fbe46c"/><stop offset="0.7" stop-color="#f3c521"/><stop offset="1" stop-color="#e0aa10"/></radialGradient>
</defs>
<!-- top face -->
<path d="M600.5,27.3 L616,19.5 C630,18.5 660,17.8 700,17.5 L765.5,17.2 L767.5,19 L757,26.5 Z" fill="#f7d28e" stroke="#8e5a84" stroke-width="0.9" stroke-linejoin="round"/>
<!-- right side face -->
<g clip-path="url(#cpSide)">
<rect x="755" y="15" width="15" height="195" fill="#cc8c9e"/>
<rect x="755" y="15" width="15" height="21" fill="#b9626f"/>
<path d="M755,23 L770,16 M755,27 L770,20 M755,31 L770,24 M755,35 L770,28" stroke="#8e4656" stroke-width="0.7"/>
<path d="M755,36 L770,29 L770,42 L755,50 Z" fill="#c4a0c4"/><path d="M755,36 L770,29 L770,42 L755,50 Z" fill="url(#hatch)"/>
<path d="M757,50 L768,43" stroke="#8c4c94" stroke-width="2"/>
<path d="M755,166 C760,163 765,160 770,157" stroke="#b4c46c" stroke-width="2.2" fill="none"/>
<path d="M755,172 C760,170 765,168 770,166" stroke="#3a68bc" stroke-width="2" fill="none"/>
<ellipse cx="762" cy="177" rx="5" ry="8" fill="url(#fatg)"/>
<ellipse cx="761" cy="197" rx="5" ry="7" fill="url(#fatg)"/>
</g>
<path d="M757,26 L767.5,18.5 L767.5,197.5 L757,206" fill="none" stroke="#8e5a84" stroke-width="0.9"/>
<!-- front face -->
<g clip-path="url(#cpFront)">
<rect x="600" y="26" width="158" height="181" fill="#f1b2bc"/>
<!-- epidermis -->
<rect x="600" y="26" width="158" height="11.6" fill="#eba6ac"/>
<path d="M600,30 C630,29 660,31 700,30 C730,29.5 745,30.5 758,30 M600,33.5 C630,33 660,34.5 700,34 C730,33 745,34 758,33.5" stroke="#d98a94" stroke-width="0.7" fill="none"/>
<!-- lavender layer -->
<path d="M600,37.6 L758,37.6 L758,54 C750,53 745,52 740,52.5 C730,53 722,52.5 714,52 C705,52 700,52.5 695,53 C690,55 686,55 680,55 C674,56 669,58 660,58.5 C650,59 640,59 630,57 C620,55.5 610,53 600,52.5 Z" fill="#e4c9e0"/>
<path d="M600,37.6 L758,37.6 L758,54 C750,53 745,52 740,52.5 C730,53 722,52.5 714,52 C705,52 700,52.5 695,53 C690,55 686,55 680,55 C674,56 669,58 660,58.5 C650,59 640,59 630,57 C620,55.5 610,53 600,52.5 Z" fill="url(#hatch)"/>
<path d="M600,37.6 L758,37.6" stroke="#b07088" stroke-width="0.8"/>
<!-- hair follicle (lavender) -->
<path d="M668.7,54.5 C670.5,57 671.6,59 671.6,60.4 C671.6,70 671.6,78 671.6,83.6 C671.6,95 671.6,105 671.6,112.7 C671.6,122 671.6,130 671.6,136 C671.8,144 672.3,150 673.1,156.4 C674,160 675.5,163 677.5,165.1 C680,167.5 683,169 686.2,169.5 C689,169.5 692,169 694.9,168 C698,166 700.5,163 702.2,159.3 C703.2,156 703.8,153 703.6,150.6 C703.4,145 703,140 702.2,136 C700.5,131 698.5,127.5 696.4,124.4 C695,120 694.5,116 694.9,112.7 C695.5,110 696.5,108.8 697.8,108.4 C699.5,108.5 701.5,109.5 703.6,109.8 C705,108 706,106 706.6,104 C708,101 709.5,99 710.9,96.7 C712.5,94 713.5,92 713.8,89.5 C713.8,87 713.2,85 712.4,83.6 C710.5,81 708.5,79.5 706.6,77.8 C703.5,75 700.5,72 697.8,69.1 C695.5,66 693.5,63 692,60.4 C691,58 690,56 689.1,54.5 Z" fill="#e4cae2"/>
<path d="M668.7,54.5 C670.5,57 671.6,59 671.6,60.4 C671.6,70 671.6,78 671.6,83.6 C671.6,95 671.6,105 671.6,112.7 C671.6,122 671.6,130 671.6,136 C671.8,144 672.3,150 673.1,156.4 C674,160 675.5,163 677.5,165.1 C680,167.5 683,169 686.2,169.5 C689,169.5 692,169 694.9,168 C698,166 700.5,163 702.2,159.3 C703.2,156 703.8,153 703.6,150.6 C703.4,145 703,140 702.2,136 C700.5,131 698.5,127.5 696.4,124.4 C695,120 694.5,116 694.9,112.7 C695.5,110 696.5,108.8 697.8,108.4 C699.5,108.5 701.5,109.5 703.6,109.8 C705,108 706,106 706.6,104 C708,101 709.5,99 710.9,96.7 C712.5,94 713.5,92 713.8,89.5 C713.8,87 713.2,85 712.4,83.6 C710.5,81 708.5,79.5 706.6,77.8 C703.5,75 700.5,72 697.8,69.1 C695.5,66 693.5,63 692,60.4 C691,58 690,56 689.1,54.5" fill="none" stroke="#8c4c94" stroke-width="2.4"/>
<path d="M668.7,54.5 C670.5,57 671.6,59 671.6,60.4 C671.6,70 671.6,78 671.6,83.6 C671.6,95 671.6,105 671.6,112.7 C671.6,122 671.6,130 671.6,136 C671.8,144 672.3,150 673.1,156.4 C674,160 675.5,163 677.5,165.1 C680,167.5 683,169 686.2,169.5 C689,169.5 692,169 694.9,168 C698,166 700.5,163 702.2,159.3 C703.2,156 703.8,153 703.6,150.6 C703.4,145 703,140 702.2,136 C700.5,131 698.5,127.5 696.4,124.4 C695,120 694.5,116 694.9,112.7 C695.5,110 696.5,108.8 697.8,108.4 C699.5,108.5 701.5,109.5 703.6,109.8 C705,108 706,106 706.6,104 C708,101 709.5,99 710.9,96.7 C712.5,94 713.5,92 713.8,89.5 C713.8,87 713.2,85 712.4,83.6 C710.5,81 708.5,79.5 706.6,77.8 C703.5,75 700.5,72 697.8,69.1 C695.5,66 693.5,63 692,60.4 C691,58 690,56 689.1,54.5" fill="none" stroke="#f2e2f2" stroke-width="0.9" stroke-dasharray="1 2.2"/>
<g fill="#9a7aa0"><circle cx="676" cy="90" r="0.5"/><circle cx="678" cy="110" r="0.5"/><circle cx="677" cy="130" r="0.5"/><circle cx="676" cy="150" r="0.5"/><circle cx="692" cy="95" r="0.5"/><circle cx="698" cy="85" r="0.5"/><circle cx="705" cy="92" r="0.5"/><circle cx="690" cy="120" r="0.5"/><circle cx="696" cy="145" r="0.5"/><circle cx="690" cy="80" r="0.5"/><circle cx="679" cy="70" r="0.5"/><circle cx="701" cy="100" r="0.5"/></g>
<!-- basement membrane -->
<path d="M600,52.5 C610,53 620,55.5 630,57 C640,59 650,59 660,58.5 C665,58 668,57 669,56 M692,55 C695,54 700,52.5 705,52 C714,52 722,52.5 730,53 C740,53 750,53 758,54" fill="none" stroke="#8c4c94" stroke-width="2.2"/>
<path d="M600,52.5 C610,53 620,55.5 630,57 C640,59 650,59 660,58.5 C665,58 668,57 669,56 M692,55 C695,54 700,52.5 705,52 C714,52 722,52.5 730,53 C740,53 750,53 758,54" fill="none" stroke="#f0e0f0" stroke-width="0.8" stroke-dasharray="1 2.2"/>
<!-- sweat gland -->
<g fill="none" stroke-linecap="round" stroke-linejoin="round">
<path d="M623,27 C622.8,35 622.6,42 622.4,48 C622,58 621.5,67 621,76 C620.5,82 620,86 619.6,90 C619.2,94 619,96.5 619,98.5 C619.5,101 620.3,102.5 621,104 C624,106 627,107 628.5,110 C630,113 628.5,116 625.5,117 C629,118 630.5,122 629,126 C627.5,131 628.5,134 627,136 C624.5,138.5 621,137.5 620,134.5 C619,131 617,130 615,132.5 C613,135 610.5,133 611,129 C611.5,125 614,123 613,120 C612,116 613,112 616.5,111 C620,110 622,113 621,116 C620,119 616,120 616.5,124 C617,128 621,129 623,126 C624.5,123 622,120 619.5,121" stroke="#6c6f82" stroke-width="5"/>
<path d="M623,27 C622.8,35 622.6,42 622.4,48 C622,58 621.5,67 621,76 C620.5,82 620,86 619.6,90 C619.2,94 619,96.5 619,98.5 C619.5,101 620.3,102.5 621,104 C624,106 627,107 628.5,110 C630,113 628.5,116 625.5,117 C629,118 630.5,122 629,126 C627.5,131 628.5,134 627,136 C624.5,138.5 621,137.5 620,134.5 C619,131 617,130 615,132.5 C613,135 610.5,133 611,129 C611.5,125 614,123 613,120 C612,116 613,112 616.5,111 C620,110 622,113 621,116 C620,119 616,120 616.5,124 C617,128 621,129 623,126 C624.5,123 622,120 619.5,121" stroke="#a4a8bc" stroke-width="3.2"/>
</g>
<!-- small vessels -->
<path d="M621,74 C626,70 632,70 636,72" stroke="#2f5fb0" stroke-width="2.4" fill="none"/>
<path d="M622,77 C628,74 636,73 641,70" stroke="#e0502e" stroke-width="2.2" fill="none"/>
<circle cx="660.1" cy="67.8" r="1.8" fill="#2a56a0"/><circle cx="665.9" cy="67.3" r="1.7" fill="#d04a2a"/>
<circle cx="711" cy="63" r="1.8" fill="#2a56a0"/><circle cx="718" cy="63" r="1.8" fill="#d04a2a"/>
<!-- arrector pili -->
<path d="M734,52 L742,54.5 L707,139 L700.5,136 Z" fill="#e0623c"/>
<path d="M736.5,53 L703,137.5 M739,53.8 L705,138.3 M741,54.4 L706.2,138.8" stroke="#f3a888" stroke-width="0.7"/>
<path d="M734,52 L742,54.5 L738,64 L730.5,61.5 Z" fill="#8aa6b8"/>
<path d="M703.5,128 L710,130.5 L707,139 L700.5,136 Z" fill="#8aa6b8"/>
<!-- corpuscle -->
<path d="M748,76 C748,100 747,125 742,140 C738,150 736,160 735.8,170 C735,180 733,190 730.5,196 C729.5,200 729,204 729,208" fill="none" stroke="#7f9fae" stroke-width="3"/>
<path d="M748,76 C748,100 747,125 742,140 C738,150 736,160 735.8,170 C735,180 733,190 730.5,196 C729.5,200 729,204 729,208" fill="none" stroke="#c6d07a" stroke-width="1.2"/>
<path d="M748,53.5 C744.5,57 742.3,65 742.6,73 C744,75.5 752,75.5 753.4,73 C753.7,65 751.5,57 748,53.5 Z" fill="#dcdc6c" stroke="#7a8c34" stroke-width="0.8"/>
<path d="M746,58 C747,59 749,57.5 750,58.5 M744.5,61.5 C746.5,63 749,61 751.5,62.5 M743.5,65.5 C746,67 749.5,64.5 752.5,66.5 M743.2,69.5 C746,71 750,68.5 753,70.5" fill="none" stroke="#6c8a30" stroke-width="0.8"/>
<!-- horizontal vessels -->
<path d="M600,161.6 C606,161.6 612,162 617.4,162.9 C622,165 626,167.5 630.3,169.4 C635,171.5 639,172.8 643.3,173.3 C650,173.9 656,173.9 662.7,173.9 C672,173.6 680,172.5 688,172.4 C696,172 703,171.7 710.2,171.7 C718,171.7 726,171.7 732.8,171.7 C742,168 750,164 758,161" fill="none" stroke="#8a9a48" stroke-width="3"/>
<path d="M600,161.6 C606,161.6 612,162 617.4,162.9 C622,165 626,167.5 630.3,169.4 C635,171.5 639,172.8 643.3,173.3 C650,173.9 656,173.9 662.7,173.9 C672,173.6 680,172.5 688,172.4 C696,172 703,171.7 710.2,171.7 C718,171.7 726,171.7 732.8,171.7 C742,168 750,164 758,161" fill="none" stroke="#c6d27a" stroke-width="1.6"/>
<path d="M600,172.6 C605,172.8 609,173.3 613.5,173.9 C617,174.5 620.5,175 623.9,175.2 C628,176.5 632,177.5 636.8,178.5 C650,179.5 665,178.5 680,177 C690,178 700,179.5 710.2,180.7 C725,181 740,178 758,175 M617.4,175.9 C612,178 607,181 603.2,183.6 L600,186 M636.8,179.7 C634,184 632.5,188 631.6,191.4 M675.6,177.2 C680,178 684,179 686,179.7 C685,183 683.5,185.5 682,187.5 M717.7,164.1 C722,166 726,168 729.8,170.2" fill="none" stroke="#e84c2c" stroke-width="2"/>
<path d="M600,165.5 C606,166.2 612,167 617.4,168.1 C620,169.5 622,171.5 623.9,173.3 C628,175 632,176.3 636.8,177.2 C643,177.6 650,177.8 656.2,177.8 C662,177.6 668,176.8 675.6,175.9 C680,175 684,174.3 688,174.6 C695,175.2 702,175.8 710.2,176.2 C718,176.8 726,177.3 734.3,177.7 C742,176 749,174 758,171 M617.4,173.3 C612,177 608,180 604.5,183.6 L600,189 M662.7,178.4 C662,180 661.6,182 661.4,183.6" fill="none" stroke="#2f62bc" stroke-width="2.4"/>
<!-- fat -->
<g fill="url(#fatg)" stroke="#d8a418" stroke-width="0.8">
<path d="M606,188 C604,183 610,181 614,182.5 C618,180 624,181 627,184 C631,186 630,192 628,195 C629,199 624,202.5 619,201.5 C615,203.5 609,202 607,198 C603,196 603,191 606,188 Z"/>
<path d="M638,186 C636,182 641,179.5 645,181 C649,179.5 654,182 654.5,186 C656,189 655,194 652,196.5 C651,200 646,201 643,199.5 C639,200 636,197 637,193.5 C635,191 636,188 638,186 Z"/>
<path d="M658,187 C656,183 661,181 665,182 C669,180.5 675,181.5 678,184.5 C683,185 688,189 687,194 C688,199 684,203.5 678,203.5 C674,205.5 667,205 664,202 C659,202 655.5,198 657,194 C655,191.5 656,189 658,187 Z"/>
<path d="M710,175 C708,171 713,168.5 718,170 C722,168.5 728,170.5 729,175 C732,178 731,183 730,186 C732,190 729,196 724,197.5 C720,200 713,199 711,195 C707,193 706,188 708.5,185 C706,182 707,178 710,175 Z"/>
<path d="M739,175 C737,171.5 742,169.5 746,171 C750,169.5 754,172 754,176 C756,179 755,183.5 751,185.5 C749,188 743,188 741,186 C737,186 735.5,182 737,179 C736,177.5 737,176 739,175 Z"/>
<path d="M688,186 C686,182 692,180.5 696,182 C700,180.5 705,183 704.5,187 C706,190 703,194 700,194.5 C697,196.5 691,195.5 690,193 C686,192.5 685.5,189 688,186 Z"/>
<path d="M690,203 C689,199.5 695,198 699,199.5 C703,198 708,200 708,204 L708,208 L690,208 Z"/>
<path d="M734,201 C733,197 739,195 743,196.5 C747,195 751,198 751,202 L751,208 L734,208 Z"/>
<path d="M630,204 C630,201 634,200 637,201 C639,200 640,202 640,204 L640,208 L630,208 Z"/>
<path d="M600.5,201 C603,199.5 607,200 608,203 L608.5,208 L600.5,208 Z"/>
<path d="M680,190 C683,189 686,192 686,196 C686,199 683,201 680,200 Z"/>
</g>
<g fill="#f7d23c" stroke="#dba81c" stroke-width="0.5" opacity="0.9" clip-path="url(#cpFront)">
<circle cx="617.1" cy="192.7" r="2.6"/>
<circle cx="617.3" cy="192.4" r="2.6"/>
<circle cx="622.5" cy="189.3" r="3.1"/>
<circle cx="617.7" cy="195.6" r="2.4"/>
<circle cx="617.4" cy="192.6" r="2.3"/>
<circle cx="622.9" cy="189.5" r="3.1"/>
<circle cx="617.5" cy="190.7" r="2.4"/>
<circle cx="613.0" cy="188.4" r="3.2"/>
<circle cx="646.4" cy="189.6" r="2.8"/>
<circle cx="644.5" cy="187.1" r="2.2"/>
<circle cx="645.5" cy="190.1" r="3.3"/>
<circle cx="648.2" cy="187.3" r="2.4"/>
<circle cx="648.9" cy="188.0" r="3.2"/>
<circle cx="647.8" cy="187.3" r="2.6"/>
<circle cx="668.5" cy="191.0" r="2.2"/>
<circle cx="669.2" cy="199.1" r="2.1"/>
<circle cx="678.0" cy="194.4" r="2.4"/>
<circle cx="667.4" cy="192.2" r="2.5"/>
<circle cx="674.0" cy="193.0" r="2.6"/>
<circle cx="673.9" cy="197.8" r="2.4"/>
<circle cx="667.4" cy="197.7" r="2.4"/>
<circle cx="663.5" cy="190.4" r="2.1"/>
<circle cx="674.1" cy="193.7" r="3.1"/>
<circle cx="670.2" cy="191.8" r="2.5"/>
<circle cx="674.0" cy="196.3" r="2.1"/>
<circle cx="669.1" cy="186.3" r="3.3"/>
<circle cx="718.3" cy="174.4" r="2.0"/>
<circle cx="717.2" cy="193.4" r="3.1"/>
<circle cx="713.0" cy="189.1" r="2.9"/>
<circle cx="719.9" cy="181.3" r="2.3"/>
<circle cx="718.0" cy="184.5" r="2.5"/>
<circle cx="721.4" cy="183.2" r="2.0"/>
<circle cx="720.2" cy="184.5" r="3.1"/>
<circle cx="717.6" cy="186.2" r="2.1"/>
<circle cx="722.2" cy="183.5" r="2.3"/>
<circle cx="719.4" cy="184.2" r="2.2"/>
<circle cx="718.5" cy="182.6" r="2.1"/>
<circle cx="717.1" cy="184.1" r="3.4"/>
<circle cx="748.3" cy="180.1" r="3.1"/>
<circle cx="740.9" cy="181.1" r="2.7"/>
<circle cx="746.1" cy="180.4" r="2.1"/>
<circle cx="744.7" cy="178.7" r="3.2"/>
<circle cx="747.5" cy="175.5" r="2.0"/>
<circle cx="696.0" cy="189.1" r="2.3"/>
<circle cx="696.6" cy="192.0" r="2.2"/>
<circle cx="701.1" cy="189.4" r="2.8"/>
<circle cx="698.3" cy="187.9" r="3.3"/>
<circle cx="696.4" cy="201.1" r="3.0"/>
<circle cx="698.5" cy="203.0" r="2.3"/>
<circle cx="702.6" cy="201.2" r="3.3"/>
<circle cx="740.0" cy="202.8" r="3.1"/>
<circle cx="739.1" cy="198.9" r="2.7"/>
<circle cx="739.8" cy="199.2" r="2.4"/>
<circle cx="637.7" cy="203.0" r="2.1"/>
<circle cx="638.1" cy="203.6" r="2.9"/>
<circle cx="637.8" cy="204.5" r="2.2"/>
<circle cx="605.6" cy="203.7" r="2.1"/>
<circle cx="604.8" cy="205.2" r="2.8"/>
<circle cx="603.9" cy="202.0" r="2.3"/>
<circle cx="684.7" cy="195.1" r="2.0"/>
<circle cx="683.1" cy="194.7" r="3.1"/>
<circle cx="683.3" cy="191.9" r="2.8"/>
</g>
<g fill="#fdf0a0" opacity="0.8">
<circle cx="612" cy="187" r="1.4"/><circle cx="619" cy="190" r="1.4"/><circle cx="614" cy="195" r="1.4"/><circle cx="622" cy="196" r="1.2"/>
<circle cx="643" cy="186" r="1.4"/><circle cx="648" cy="191" r="1.3"/><circle cx="644" cy="195" r="1.2"/>
<circle cx="664" cy="188" r="1.4"/><circle cx="671" cy="192" r="1.4"/><circle cx="677" cy="197" r="1.3"/><circle cx="666" cy="198" r="1.2"/>
<circle cx="715" cy="176" r="1.4"/><circle cx="721" cy="182" r="1.4"/><circle cx="716" cy="189" r="1.3"/><circle cx="723" cy="192" r="1.2"/>
<circle cx="744" cy="176" r="1.3"/><circle cx="748" cy="181" r="1.2"/>
</g>
<!-- pink nerve in skin -->
<path d="M625,206 C631,196 637,186 643.3,175.9 C646,165 647.5,150 648.3,130 C648.8,110 648.5,90 648.2,64" fill="none" stroke="#c62a6a" stroke-width="2.5"/>
<path d="M648.2,66 L641,59.5 L634.5,58.5 M641,59.5 L641.5,56.5 M648.2,66 L656,59.5 L663,58.8 M656,59.5 L655.5,56.5" fill="none" stroke="#c62a6a" stroke-width="1.9" stroke-linecap="round" stroke-linejoin="round"/>
<g fill="#c62a6a"><circle cx="634.3" cy="58.3" r="1.6"/><circle cx="641.5" cy="56.3" r="1.5"/><circle cx="663.2" cy="58.6" r="1.6"/><circle cx="655.5" cy="56.3" r="1.5"/></g>
</g>
<rect x="600.5" y="26.5" width="156.5" height="179.5" fill="none" stroke="#8e5a84" stroke-width="1"/>
<!-- hair shaft -->
<path d="M698.5,-1 C695,10 691,20 688.5,28 C687,33 686.6,36 686.2,40" stroke="#7e3e26" stroke-width="3.2" fill="none"/>
<path d="M698.5,-1 C695,10 691,20 688.5,28 C687,33 686.6,36 686.2,40" stroke="#a85a36" stroke-width="1.8" fill="none"/>
<path d="M686.2,40 C685.3,50 684.7,60 684.7,69.1 C684.2,80 683.7,90 683.3,98.2 C683,110 682.8,120 682.7,127.3 C682.4,133 682.1,138 681.8,143" stroke="#7e3e26" stroke-width="4.6" fill="none"/>
<path d="M686.2,40 C685.3,50 684.7,60 684.7,69.1 C684.2,80 683.7,90 683.3,98.2 C683,110 682.8,120 682.7,127.3 C682.4,133 682.1,138 681.8,143" stroke="#a85a36" stroke-width="3.2" fill="none"/>
<path d="M681.5,141 C677,146 675.5,153 676.5,158 C677.5,163 680,165.5 682.5,165 C683.5,164.5 684.2,163 684.7,161.5 C685.5,163.5 687,165.5 689.5,165 C692.5,164.5 694,160 693.5,155 C693,149 689,144 684.5,141 Z" fill="#a65638" stroke="#7a3a24" stroke-width="0.8"/>
<!-- ===== MUSCLE ===== -->
<defs>
<linearGradient id="tendg" x1="0" x2="0" y1="0" y2="1"><stop offset="0" stop-color="#dbe8f0"/><stop offset="0.5" stop-color="#b6cddc"/><stop offset="1" stop-color="#96b0c4"/></linearGradient>
<clipPath id="cpMus"><path id="musP" d="M559.6,410.5 C564,407 568,404 571.8,400.7 C577,396.5 583,392.5 588.9,388.5 C595,384.5 600,380.5 606,376.2 C612,372 619,368 625.6,364 C632,360.5 638.5,358 645.1,355.5 C652,353 659.5,351 667.1,349.3 C675,347.5 683,345 691.6,343.2 C698,341.5 705,340 711.1,338.3 C718,337 724,335.5 730.7,334.7 L738,334.2 C739,337.5 740,341 740.5,344.4 C738,348 736,351 733.2,354.2 C730,358.5 727,362.5 723.4,366.5 C719.5,370.5 715.5,374.5 711.1,377.5 C706.5,381 701.5,384.5 696.5,387.2 C690,391 683.5,395 676.9,398.2 C670,401.5 662.5,404.5 654.9,406.8 C647,409.5 639,412 630.5,414.1 C621.5,416 612.5,417.3 603.6,417.8 C595.5,418.5 587.5,418.8 579.1,419 C573,419.3 567.5,419.8 562,420.2 Z"/></clipPath>
<radialGradient id="musg2" gradientUnits="userSpaceOnUse" cx="630" cy="383" r="115" gradientTransform="rotate(-25 630 383) translate(630 383) scale(1 0.35) translate(-630 -383)"><stop offset="0" stop-color="#f4ab78"/><stop offset="0.6" stop-color="#e98f5a"/><stop offset="1" stop-color="#d97a46"/></radialGradient>
</defs>
<!-- tendons -->
<path d="M560.0,409.5 C558.3,410.5 553.0,413.6 550.0,415.5 C547.0,417.4 545.7,418.6 542.0,420.6 C538.3,422.6 532.9,425.4 528.0,427.6 C523.1,429.8 515.2,432.9 512.6,434.0 C511.5,436 512,438.5 514,440.2 C516.3,439.0 523.3,435.2 528.0,433.2 C532.7,431.2 537.8,429.8 542.0,428.4 C546.2,427.0 549.3,425.9 553.0,424.8 C556.7,423.7 562.2,422.3 564.0,421.8 Z" fill="#d6e6f0" stroke="#5f93b8" stroke-width="1.1"/>
<path d="M561.2,413.2 C559.5,414.0 554.1,416.7 550.9,418.3 C547.7,419.9 545.8,421.1 542.0,422.9 C538.2,424.8 532.8,427.1 528.0,429.3 C523.2,431.4 515.5,434.8 513.0,435.9 M562.2,416.3 C560.4,417.0 555.0,419.2 551.6,420.6 C548.3,422.1 545.9,423.2 542.0,424.9 C538.1,426.6 532.8,428.6 528.0,430.7 C523.2,432.8 515.8,436.3 513.4,437.4 M563.1,419.1 C561.3,419.7 555.9,421.5 552.3,422.8 C548.8,424.0 546.1,425.1 542.0,426.7 C537.9,428.2 532.7,429.9 528.0,432.0 C523.3,434.0 516.1,437.7 513.7,438.8" fill="none" stroke="#9cc0da" stroke-width="0.7"/>
<path d="M731.0,333.8 C733.5,333.1 741.2,331.1 745.8,329.7 C750.4,328.3 754.5,326.9 758.8,325.2 C763.1,323.5 767.8,321.3 771.7,319.4 C775.6,317.5 780.3,314.6 782.0,313.6 C784.5,315.5 785,318.5 783.6,320.5 C781.6,321.4 775.8,323.8 771.7,325.8 C767.6,327.8 763.1,330.1 758.8,332.3 C754.5,334.5 749.3,336.4 745.8,338.8 C742.3,341.2 739.3,345.6 738.0,347.0 Z" fill="#d6e6f0" stroke="#5f93b8" stroke-width="1.1"/>
<path d="M733.1,337.8 C735.2,336.9 741.5,334.2 745.8,332.4 C750.1,330.7 754.5,329.2 758.8,327.3 C763.1,325.5 767.8,323.3 771.7,321.3 C775.6,319.4 780.7,316.6 782.5,315.7 M734.9,341.1 C736.7,340.0 741.8,336.7 745.8,334.7 C749.8,332.7 754.5,331.1 758.8,329.1 C763.1,327.1 767.7,324.9 771.7,322.9 C775.7,321.0 781.0,318.3 782.9,317.4 M736.5,344.1 C738.0,342.9 742.1,339.0 745.8,336.8 C749.5,334.6 754.5,332.8 758.8,330.7 C763.1,328.7 767.6,326.4 771.7,324.4 C775.8,322.4 781.3,319.9 783.2,319.0" fill="none" stroke="#9cc0da" stroke-width="0.7"/>
<!-- belly -->
<use href="#musP" filter="url(#shd)"/>
<use href="#musP" fill="url(#musg2)" stroke="#98303c" stroke-width="1.3"/>
<g clip-path="url(#cpMus)">
<ellipse cx="628" cy="388" rx="42" ry="14" transform="rotate(-20 628 388)" fill="#f0a472" opacity="0.7"/>
<ellipse cx="620" cy="392" rx="25" ry="7" transform="rotate(-22 620 392)" fill="#f6b888" opacity="0.6"/>
<g fill="none" stroke="#9e2e36" stroke-linecap="round" opacity="0.9">
<path d="M634.0,363.2 C636.3,362.3 643.0,359.2 647.7,357.5 C652.3,355.9 657.2,354.8 661.9,353.4 C666.7,352.1 671.4,350.8 676.2,349.5 C681.0,348.2 685.7,346.9 690.5,345.6 C695.2,344.3 700.0,343.0 704.7,341.7 C709.5,340.5 715.8,338.9 719.0,338.2 C722.1,337.4 723.0,337.3 723.7,337.1" stroke-width="0.9"/>
<path d="M639.2,362.9 C641.5,362.1 648.4,359.4 653.1,357.8 C657.8,356.3 662.6,354.9 667.3,353.6 C672.1,352.2 676.8,350.9 681.6,349.6 C686.3,348.3 693.4,346.3 695.8,345.6" stroke-width="0.9"/>
<path d="M571.9,403.4 C573.9,402.1 580.1,398.2 584.3,395.7 C588.4,393.1 592.5,390.5 596.7,387.9 C600.8,385.3 604.9,382.7 609.1,380.1 C613.3,377.6 617.6,375.2 622.0,372.9 C626.3,370.6 633.0,367.5 635.3,366.4" stroke-width="1.1"/>
<path d="M572.0,403.7 C574.1,402.5 580.3,398.7 584.5,396.2 C588.6,393.7 592.8,391.2 596.9,388.6 C601.1,386.1 605.2,383.5 609.4,381.0 C613.7,378.5 620.2,375.0 622.3,373.8" stroke-width="1.1"/>
<path d="M580.6,399.4 C582.7,398.2 589.0,394.6 593.1,392.2 C597.3,389.7 601.5,387.1 605.7,384.7 C609.9,382.3 614.2,380.0 618.6,377.6 C622.9,375.3 627.2,372.9 631.7,370.7 C636.1,368.6 640.7,366.7 645.4,365.0 C650.0,363.3 655.6,361.7 659.5,360.4 C663.4,359.1 667.3,357.8 668.9,357.3" stroke-width="1.4"/>
<path d="M641.3,368.2 C643.7,367.3 650.6,364.7 655.3,363.0 C659.9,361.4 664.7,360.0 669.4,358.5 C674.1,357.0 679.6,355.4 683.5,354.1 C687.4,352.9 691.3,351.6 692.9,351.1" stroke-width="1.4"/>
<path d="M560.2,412.7 C562.2,411.5 568.3,407.7 572.5,405.3 C576.7,403.0 581.0,400.8 585.3,398.5 C589.5,396.2 593.8,393.9 598.0,391.6 C602.3,389.3 606.5,386.8 610.8,384.5 C615.1,382.2 619.4,379.9 623.9,377.8 C628.3,375.6 632.8,373.5 637.3,371.5 C641.9,369.6 648.8,366.9 651.1,365.9" stroke-width="1.1"/>
<path d="M661.4,365.0 C663.8,364.2 670.8,361.8 675.4,360.2 C680.1,358.6 684.8,357.1 689.4,355.5 C694.1,353.8 699.4,351.9 703.3,350.4 C707.1,349.0 710.8,347.4 712.3,346.8" stroke-width="1.1"/>
<path d="M661.8,366.0 C664.2,365.2 671.2,362.8 675.9,361.1 C680.5,359.5 685.2,358.0 689.8,356.3 C694.4,354.6 699.1,352.9 703.6,351.2 C708.1,349.4 712.6,347.5 717.0,345.7 C721.4,343.8 727.1,341.4 730.0,340.3 C732.9,339.1 733.6,338.9 734.4,338.6" stroke-width="1.1"/>
<path d="M667.1,365.7 C669.4,364.9 676.4,362.5 681.1,360.8 C685.7,359.1 690.3,357.5 694.9,355.7 C699.5,354.0 704.7,351.8 708.5,350.2 C712.2,348.7 715.8,347.1 717.3,346.4" stroke-width="1.4"/>
<path d="M599.6,395.8 C601.8,394.8 608.3,391.7 612.7,389.6 C617.1,387.5 621.6,385.4 626.1,383.4 C630.6,381.4 635.9,379.1 639.7,377.5 C643.5,375.9 647.4,374.4 648.9,373.8" stroke-width="1.1"/>
<path d="M595.5,398.8 C597.7,397.8 604.3,394.8 608.7,392.8 C613.2,390.8 617.7,389.0 622.2,386.9 C626.6,384.9 631.1,382.7 635.6,380.7 C640.2,378.8 644.8,376.9 649.5,375.2 C654.2,373.5 659.0,372.0 663.6,370.3 C668.3,368.7 673.7,366.6 677.5,365.1 C681.4,363.7 685.3,362.3 686.8,361.7" stroke-width="0.9"/>
<path d="M636.3,382.4 C638.6,381.5 645.6,378.7 650.2,377.0 C654.9,375.2 659.7,373.8 664.4,372.1 C669.0,370.4 675.1,367.9 678.2,366.7 C681.3,365.6 682.1,365.3 682.9,365.0" stroke-width="1.2"/>
<path d="M614.3,393.7 C616.5,392.7 623.3,389.9 627.9,388.0 C632.4,386.1 637.0,384.2 641.6,382.3 C646.3,380.5 650.9,378.6 655.6,376.8 C660.2,375.1 666.6,373.0 669.7,371.9 C672.8,370.8 673.5,370.4 674.3,370.1" stroke-width="1.4"/>
<path d="M583.1,406.7 C585.3,405.9 592.1,403.6 596.6,401.8 C601.1,400.1 605.6,398.2 610.1,396.4 C614.6,394.7 619.2,393.0 623.8,391.2 C628.3,389.3 635.2,386.2 637.4,385.2" stroke-width="0.9"/>
<path d="M601.6,401.4 C603.9,400.5 610.7,398.0 615.2,396.2 C619.8,394.5 624.4,392.7 629.0,390.9 C633.6,389.1 638.2,387.2 642.9,385.4 C647.5,383.5 652.9,381.3 656.8,379.9 C660.7,378.4 664.7,377.2 666.3,376.7" stroke-width="1.4"/>
<path d="M624.8,393.8 C627.1,392.8 633.9,389.9 638.5,388.0 C643.2,386.2 647.9,384.4 652.5,382.6 C657.2,380.9 664.3,378.5 666.7,377.6" stroke-width="0.9"/>
<path d="M630.0,393.4 C632.3,392.5 639.3,389.9 643.9,388.1 C648.6,386.3 653.2,384.4 657.9,382.6 C662.6,380.8 667.4,379.3 672.0,377.5 C676.6,375.6 681.2,373.6 685.7,371.6 C690.2,369.5 694.7,367.5 699.1,365.3 C703.5,363.1 707.9,360.8 712.0,358.3 C716.2,355.9 721.5,352.4 724.1,350.6 C726.8,348.9 727.4,348.4 728.0,348.0" stroke-width="0.9"/>
<path d="M668.0,380.8 C670.3,379.8 677.2,376.9 681.7,374.9 C686.2,372.9 690.8,370.9 695.2,368.7 C699.7,366.5 704.1,364.3 708.3,361.9 C712.6,359.5 716.7,356.8 720.6,354.1 C724.6,351.5 729.5,347.7 732.0,345.8 C734.6,344.0 735.2,343.5 735.8,343.1" stroke-width="1.2"/>
<path d="M663.8,383.7 C666.1,382.8 673.1,380.0 677.6,378.1 C682.2,376.1 686.8,374.1 691.2,371.9 C695.7,369.8 700.2,367.7 704.5,365.3 C708.8,362.9 714.9,358.9 717.0,357.6" stroke-width="1.4"/>
<path d="M645.5,391.9 C647.8,391.0 654.8,388.3 659.5,386.5 C664.2,384.7 668.9,383.1 673.6,381.2 C678.2,379.3 682.7,377.1 687.2,375.0 C691.6,372.9 696.1,370.7 700.5,368.4 C704.8,366.0 709.1,363.5 713.2,360.9 C717.3,358.3 721.7,354.9 724.9,352.6 C728.1,350.2 731.1,347.7 732.3,346.7" stroke-width="1.2"/>
<path d="M669.5,384.5 C671.8,383.5 678.7,380.4 683.2,378.3 C687.7,376.2 692.2,374.1 696.6,371.8 C701.0,369.5 706.7,366.2 709.5,364.6 C712.3,362.9 712.9,362.3 713.6,361.8" stroke-width="1.2"/>
<path d="M604.2,408.4 C606.5,407.7 613.7,405.9 618.4,404.6 C623.2,403.2 627.9,401.8 632.6,400.2 C637.4,398.6 642.9,396.6 646.8,395.2 C650.7,393.8 654.6,392.2 656.2,391.6" stroke-width="1.2"/>
<path d="M623.8,405.0 C626.2,404.2 633.3,401.8 638.0,400.2 C642.7,398.6 647.5,397.0 652.3,395.3 C657.0,393.6 661.7,391.8 666.3,389.9 C671.0,388.0 677.1,385.3 680.1,383.9 C683.1,382.5 683.8,382.1 684.6,381.7" stroke-width="1.2"/>
<path d="M652.6,396.3 C655.0,395.3 662.1,392.7 666.7,390.8 C671.3,388.9 675.9,386.9 680.5,384.8 C685.0,382.6 689.5,380.4 693.9,378.1 C698.3,375.7 702.7,373.3 706.9,370.7 C711.1,368.0 715.1,365.1 718.9,362.0 C722.7,358.9 727.9,353.9 729.7,352.2" stroke-width="1.2"/>
<path d="M581.0,415.5 C583.5,415.1 590.8,414.2 595.7,413.4 C600.5,412.6 605.4,411.7 610.3,410.7 C615.1,409.8 621.6,408.4 624.8,407.6 C628.1,406.9 628.9,406.6 629.7,406.4" stroke-width="1.4"/>
<path d="M649.0,400.6 C651.3,399.7 658.4,397.1 663.1,395.3 C667.8,393.4 672.5,391.7 677.1,389.6 C681.6,387.5 686.1,385.1 690.5,382.7 C694.9,380.3 700.6,376.9 703.5,375.3 C706.4,373.6 707.1,373.1 707.8,372.7" stroke-width="1.2"/>
<path d="M610.9,412.6 C613.4,412.1 620.8,411.0 625.7,409.8 C630.5,408.6 635.3,407.0 640.1,405.5 C644.9,404.0 651.3,401.9 654.5,400.8 C657.6,399.7 658.4,399.2 659.1,398.9" stroke-width="0.9"/>
<path d="M601.6,415.5 C604.0,415.1 611.4,413.9 616.4,413.1 C621.3,412.2 626.3,411.5 631.2,410.3 C636.0,409.0 640.8,407.3 645.6,405.7 C650.4,404.1 657.5,401.5 659.9,400.7" stroke-width="1.1"/>
<path d="M655.7,403.9 C658.1,403.0 665.2,400.4 669.8,398.4 C674.5,396.4 679.0,394.2 683.5,391.9 C688.0,389.6 693.8,386.3 696.7,384.6 C699.6,382.9 700.3,382.3 701.0,381.9" stroke-width="1.4"/>
</g>
</g>
<!-- motor branches in muscle -->
<g fill="none" stroke="#23226c" stroke-width="2.6" stroke-linecap="round" stroke-linejoin="round">
<path d="M638.1,346.2 C639.1,347.1 642.1,349.8 644.1,351.4 C646.1,353.0 648.2,354.5 650.2,355.7 C652.2,356.9 654.1,357.8 656.2,358.7 C658.3,359.6 660.5,360.4 663.0,361.0 C665.5,361.6 669.1,362.2 671.1,362.5 C673.1,362.8 674.4,362.5 675.0,362.5"/>
<path d="M638.1,346.2 C638.5,347.2 639.6,350.0 640.3,352.2 C640.9,354.4 641.4,356.8 642.0,359.1 C642.6,361.4 643.2,363.8 643.7,366.0 C644.2,368.2 644.8,371.4 645.0,372.5"/>
<path d="M645.0,372.5 C646.1,373.0 649.7,374.7 651.7,375.4 C653.7,376.1 655.5,376.2 657.0,376.5 C658.5,376.8 659.9,376.9 660.5,377.0"/>
<path d="M645.0,372.5 C644.7,374.1 643.7,379.6 643.1,381.9 C642.5,384.1 641.8,385.3 641.5,386.0"/>
</g>
<g fill="#23226c">
<path d="M671,362.5 L678.5,357.8 L678,367.5 Z"/>
<path d="M656.5,377 L663.5,372.5 L663,382 Z"/>
<path d="M641.5,382.5 L644.5,389.8 L634,388.8 Z"/>
</g>
<!-- ===== LABEL LINES ===== -->
<g fill="none" stroke="#3a3c42" stroke-width="1.3">
<path d="M252,72.3 L252,118"/>
<path d="M377.1,118 L377.1,143"/>
<path d="M214.6,362 L214.6,223 L255.6,192.3"/>
<path d="M319.6,362.5 L319.6,265"/>
<path d="M537.5,242 L500.9,285.7 L552.6,271.1"/>
<path d="M679.5,306.5 L679.5,357"/>
<path d="M696.7,385.5 L731,385.5"/>
</g>
<!-- ===== TEXT ===== -->
<g class="t">
<text class="k" x="244" y="41">Dorsalrot</text>
<text class="r" x="244" y="64">Guillain-Barrés syndrom</text>
<text class="k" x="370" y="110.5">Dorsalrotganglion</text>
<text class="k" x="349.5" y="291" letter-spacing="0.65" word-spacing="-1.5">Perifere nerver</text>
<text class="r" x="349.5" y="314">Guillain-Barrés syndrom</text>
<text class="r" x="349.5" y="337" letter-spacing="0.35">Polynevropati</text>
<text class="k" x="634.5" y="277" letter-spacing="0.60">Nevromuskulær overgang</text>
<text class="r" x="634.5" y="300" letter-spacing="0.45">Myasteni</text>
<text class="k" x="734" y="395" letter-spacing="1.25">Muskel</text>
<text class="r" x="734" y="418">Myopati</text>
<text class="k" x="47.5" y="381.7">Anterior horncelle</text>
<text class="r" x="47.5" y="404.7" word-spacing="-1.5">Spinal muskelatrofi</text>
<text class="r" x="47.5" y="427.7">Poliomyelitt</text>
<text class="k" x="260.5" y="381.9" letter-spacing="0.85" word-spacing="-2">Ventral rot</text>
<text class="r" x="260.5" y="404.9">Guillain-Barrés syndrom</text>
</g>
<text x="663.2" y="228.5" font-family="Liberation Sans" font-size="20.5" letter-spacing="1.1" fill="#262626" stroke="#262626" stroke-width="0.45">Hud</text>
<text x="526.8" y="452.6" font-family="Liberation Sans" font-size="17" letter-spacing="0.45" fill="#707070">© K. C. Toverud</text>
</svg>
</body></html>
